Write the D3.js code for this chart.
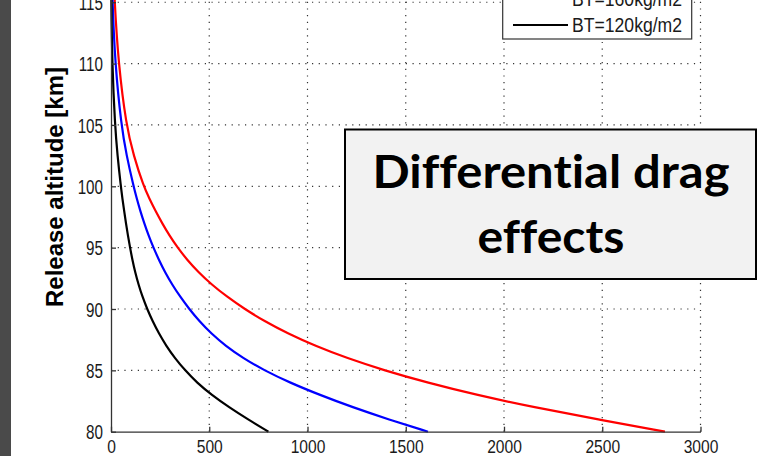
<!DOCTYPE html>
<html>
<head>
<meta charset="utf-8">
<script src="https://cdn.jsdelivr.net/npm/d3@7"></script>
<style>
  body { margin: 0; background: #fff; }
  svg { display: block; }
</style>
</head>
<body>
<svg id="chart"></svg>
<script>
var altitude  = [80, 81, 82, 83, 84, 85, 86, 87, 88, 89, 90, 91, 92, 93, 94, 95, 96, 97, 98, 99, 100, 102.5, 105, 110, 115, 120];
var redVals   = [2819, 2478, 2150, 1860, 1610, 1390, 1200, 1038, 900, 782, 680, 590, 512, 445, 388, 339, 297, 260, 226, 195, 166, 115, 77, 38, 18, 6];
var blueVals  = [1613, 1413, 1228, 1062, 910, 780, 672, 583, 510, 450, 398, 352, 311, 275, 244, 216, 191, 169, 149, 131, 115, 79, 52, 21, 7, 1];
var blackVals = [801, 697, 600, 512, 437, 377, 325, 281, 244, 212, 184, 160, 140, 123, 109, 97, 86, 76, 67, 58, 50, 33, 20, 6, 1.5, 0];
var seriesNames = ["BT=200kg/m2", "BT=160kg/m2", "BT=120kg/m2"];
var seriesColors = ["#ff0000", "#0000ff", "#000000"];
var xTicks = [0, 500, 1000, 1500, 2000, 2500, 3000];
var yTicks = [80, 85, 90, 95, 100, 105, 110, 115, 120];

var width = 757, height = 456;

var svg = d3.select('#chart')
            .attr('width', width)
            .attr('height', height)
            .style('background', '#fff');

var xScale = d3.scaleLinear().domain([0, 3000]).range([111, 700.5]);
var yScale = d3.scaleLinear().domain([80, 120]).range([431.7, -59.1]);

// squeeze text horizontally (matlab fonts come out narrow)
function squeeze(sel, k) {
  sel.each(function() {
    var w = this.getComputedTextLength();
    d3.select(this).attr('textLength', w * k).attr('lengthAdjust', 'spacingAndGlyphs');
  });
}

// dotted grid
var grid = svg.append('g').attr('class', 'grid')
              .attr('stroke', '#333').attr('stroke-width', 1.2)
              .attr('stroke-dasharray', '1.2,5.5');
grid.selectAll('line.gx')
    .data(xTicks.filter(function(d){ return d > 0; }))
    .enter().append('line')
    .attr('class', 'gx')
    .attr('x1', function(d){ return xScale(d); })
    .attr('x2', function(d){ return xScale(d); })
    .attr('y1', yScale(80)).attr('y2', yScale(120));
grid.selectAll('line.gy')
    .data(yTicks.filter(function(d){ return d > 80; }))
    .enter().append('line')
    .attr('class', 'gy')
    .attr('y1', function(d){ return yScale(d); })
    .attr('y2', function(d){ return yScale(d); })
    .attr('x1', xScale(0)).attr('x2', xScale(3000));

// curves
var line = d3.line()
             .x(function(d){ return xScale(d.v); })
             .y(function(d){ return yScale(d.alt); })
             .curve(d3.curveBasis);

var allVals = [redVals, blueVals, blackVals];
allVals.forEach(function(vals, i) {
  var pts = altitude.map(function(a, j){ return {alt: a, v: vals[j]}; });
  svg.append('path')
     .datum(pts)
     .attr('d', line)
     .attr('fill', 'none')
     .attr('stroke', seriesColors[i])
     .attr('stroke-width', 2.2);
});

// axes
var xAxis = d3.axisBottom(xScale).tickValues(xTicks).tickFormat(d3.format('d'))
              .tickSize(-5).tickSizeOuter(0).tickPadding(8);
var yAxis = d3.axisLeft(yScale).tickValues(yTicks).tickFormat(d3.format('d'))
              .tickSize(-5).tickSizeOuter(0).tickPadding(8);

var gx = svg.append('g')
            .attr('class', 'x_axis')
            .attr('transform', 'translate(0,' + yScale(80) + ')')
            .call(xAxis);
var gy = svg.append('g')
            .attr('class', 'y_axis')
            .attr('transform', 'translate(' + xScale(0) + ',0)')
            .call(yAxis);

[gx, gy].forEach(function(g) {
  g.selectAll('path, line').attr('stroke', '#333').attr('stroke-width', 1.3);
  g.selectAll('text')
   .attr('fill', '#1a1a1a')
   .style('font-family', 'Liberation Sans, Arial, sans-serif');
});
gx.selectAll('text').style('font-size', '19px').call(squeeze, 0.82);
gy.selectAll('text').style('font-size', '20px').attr('dy', '0.36em').call(squeeze, 0.76);

// y label
svg.append('text')
   .attr('transform', 'translate(63,187) rotate(-90)')
   .attr('text-anchor', 'middle')
   .style('font-family', 'Liberation Sans, Arial, sans-serif')
   .style('font-size', '24px')
   .style('font-weight', 'bold')
   .attr('fill', '#000')
   .text('Release altitude [km]');

// legend (top of it runs off the picture)
var legend = svg.append('g').attr('class', 'legend');
var rowH = 26;
var legBottom = 39, legLeft = 502.7, legRight = 691.7;
var legTop = legBottom - rowH * seriesNames.length - 8;
legend.append('rect')
      .attr('x', legLeft).attr('y', legTop)
      .attr('width', legRight - legLeft).attr('height', legBottom - legTop)
      .attr('fill', '#fff').attr('stroke', '#333').attr('stroke-width', 1.2);
seriesNames.forEach(function(name, i) {
  var cy = legBottom - 14 - rowH * (seriesNames.length - 1 - i);
  legend.append('line')
        .attr('x1', 513).attr('x2', 568)
        .attr('y1', cy).attr('y2', cy)
        .attr('stroke', seriesColors[i]).attr('stroke-width', 2.2);
  legend.append('text')
        .attr('x', 572).attr('y', cy).attr('dy', '0.36em')
        .style('font-family', 'Liberation Sans, Arial, sans-serif')
        .style('font-size', '20px')
        .attr('fill', '#1a1a1a')
        .text(name)
        .call(squeeze, 0.88);
});

// annotation box
var note = svg.append('g').attr('class', 'note');
note.append('rect')
    .attr('x', 345).attr('y', 129.5)
    .attr('width', 411).attr('height', 149.5)
    .attr('fill', '#f2f2f2').attr('stroke', '#000').attr('stroke-width', 2);
var noteLines = ['Differential drag', 'effects'];
var noteWidths = [357, 147];
noteLines.forEach(function(t, i) {
  note.append('text')
      .attr('x', 551).attr('y', 188 + i * 65)
      .attr('text-anchor', 'middle')
      .style('font-family', 'Lato, Open Sans, sans-serif')
      .style('font-size', '46px')
      .style('font-weight', 'bold')
      .style('font-variant-ligatures', 'none')
      .style('font-feature-settings', '"liga" 0, "clig" 0')
      .attr('fill', '#000')
      .attr('textLength', noteWidths[i])
      .attr('lengthAdjust', 'spacingAndGlyphs')
      .text(t);
});

// dark strip on the left edge
svg.append('rect')
   .attr('x', 0).attr('y', 0)
   .attr('width', 11).attr('height', height)
   .attr('fill', '#4a4a4a');
</script>
</body>
</html>
